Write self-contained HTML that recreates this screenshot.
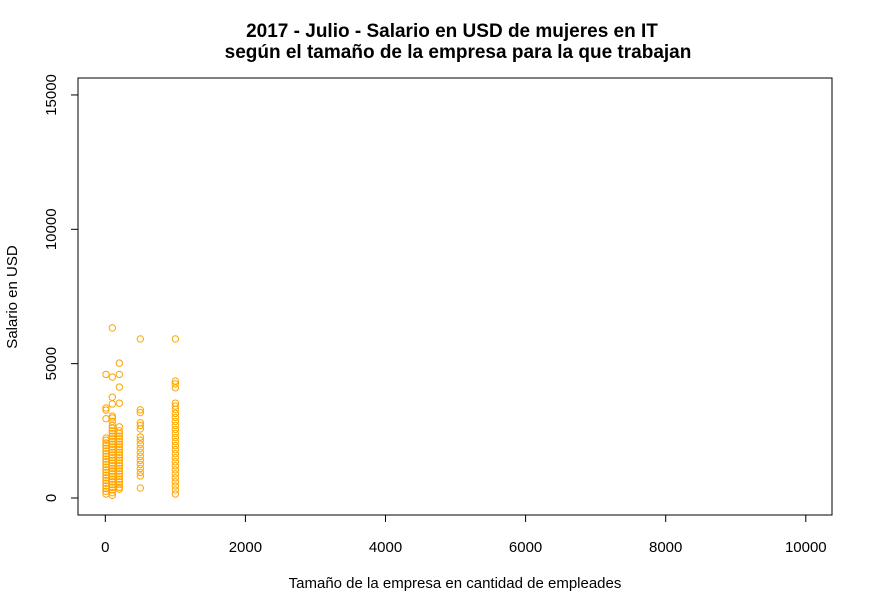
<!DOCTYPE html>
<html><head><meta charset="utf-8">
<style>
body{margin:0;background:#fff;}
svg{display:block;font-family:"Liberation Sans",Arial,sans-serif;}
</style></head>
<body>
<svg id="chart" width="873" height="613" viewBox="0 0 873 613" xmlns="http://www.w3.org/2000/svg">
<text x="452" y="37" text-anchor="middle" font-size="19" font-weight="bold">2017 - Julio - Salario en USD de mujeres en IT</text>
<text x="458" y="58" text-anchor="middle" font-size="19" font-weight="bold">según el tamaño de la empresa para la que trabajan</text>
<rect x="78" y="78" width="754" height="437" fill="none" stroke="#000" stroke-width="1"/>
<g id="axes"></g>
<g id="points"></g>
<text x="455" y="588" text-anchor="middle" font-size="15">Tamaño de la empresa en cantidad de empleades</text>
<text transform="translate(17,297) rotate(-90)" text-anchor="middle" font-size="15">Salario en USD</text>
</svg>
<script>
const xTicks = [0, 2000, 4000, 6000, 8000, 10000];
const yTicks = [0, 5000, 10000, 15000];
const sizes10 = [4600,3350,3270,2950,2230,2150,2050,1950,1850,1750,1650,1550,1450,1350,1250,1150,1050,950,850,750,650,550,450,350,250,150];
const sizes100 = [6330,4500,3750,3500,3050,2980,2850,2700,2600,2500,2400,2300,2200,2100,2000,1900,1800,1700,1600,1500,1400,1300,1200,1100,1000,900,800,700,600,500,400,300,200,100];
const sizes200 = [5020,4600,4130,3530,2650,2500,2400,2300,2200,2100,2000,1900,1800,1700,1600,1500,1400,1300,1200,1100,1000,900,800,700,600,500,400,330];
const sizes500 = [5920,3280,3180,2800,2700,2570,2270,2150,2000,1850,1700,1550,1400,1250,1100,950,820,370];
const sizes1000 = [5920,4350,4250,4100,3530,3420,3300,3150,3000,2850,2700,2550,2400,2250,2100,1950,1800,1650,1500,1350,1200,1050,900,750,600,450,300,150];
const columns = [10, 100, 200, 500, 1000];
const salaries = [sizes10, sizes100, sizes200, sizes500, sizes1000];

function xs(v){ return 105.3 + v * 0.07005; }
function ys(v){ return 498 - v * 0.02687; }
const NS = "http://www.w3.org/2000/svg";
const axes = document.getElementById('axes');
function mk(tag, attrs){ const e=document.createElementNS(NS,tag); for(const k in attrs) e.setAttribute(k,attrs[k]); return e; }
const xl = mk('line',{x1:xs(0),x2:xs(10000),y1:515,y2:515,stroke:'#000'});


axes.appendChild(xl);
xTicks.forEach(t=>{
  const l = mk('line',{x1:xs(t),x2:xs(t),y1:515,y2:522,stroke:'#000'});
  
  
  axes.appendChild(l);
  const tx = mk('text',{x:xs(t),y:552,'text-anchor':'middle','font-size':'15'});
  tx.textContent = t;
  
  
  axes.appendChild(tx);
});
yTicks.forEach(t=>{
  const l = mk('line',{x1:71,x2:78,y1:ys(t),y2:ys(t),stroke:'#000'});
  
  
  axes.appendChild(l);
  const tx = mk('text',{transform:'translate(56,'+ys(t)+') rotate(-90)','text-anchor':'middle','font-size':'15'});
  tx.textContent = t;
  
  
  axes.appendChild(tx);
});
const pts = document.getElementById('points');
columns.forEach((c,i)=>{
  salaries[i].forEach(s=>{
    const p = mk('circle',{cx:xs(c),cy:ys(s),r:3.2,fill:'none',stroke:'#FFA500','stroke-width':'1'});
    
    
    pts.appendChild(p);
  });
});
</script>
</body></html>
